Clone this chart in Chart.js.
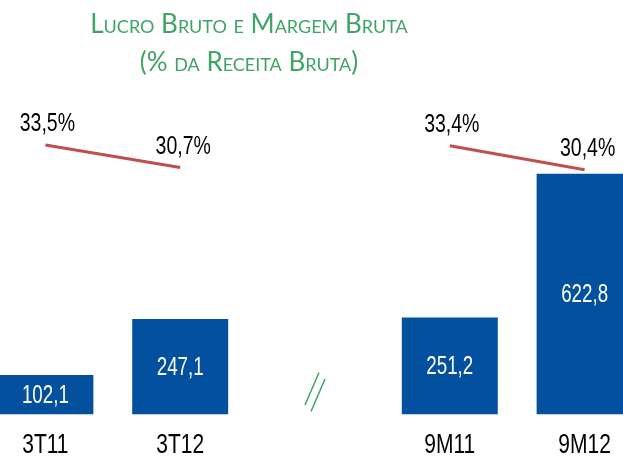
<!DOCTYPE html>
<html>
<head>
<meta charset="utf-8">
<script src="https://cdn.jsdelivr.net/npm/chart.js@4.4.0/dist/chart.umd.min.js"></script>
<style>
    body { margin: 0; background: #fff; }
    #wrap { position: relative; width: 623px; height: 458px; overflow: hidden; }
    #lucroChart { position: absolute; left: -22px; top: 0; }
    .titulo {
        position: absolute; left: 0; width: 498px; text-align: center;
        color: #3fa465; font-family: Lato, "Open Sans", sans-serif;
        font-variant: small-caps; font-size: 26px; line-height: 1;
    }
</style>
</head>
<body>
<div id="wrap">
    <canvas id="lucroChart" width="674" height="458"></canvas>
    <div class="titulo" style="top:10px">Lucro Bruto e Margem Bruta</div>
    <div class="titulo" style="top:48px">(% da Receita Bruta)</div>
</div>
<script>
const periodos = ["3T11", "3T12", "", "9M11", "9M12"];
const lucroBruto = [102.1, 247.1, null, 251.2, 622.8];
const margemBruta = [33.5, 30.7, null, 33.4, 30.4];

const azul = "#03509f";
const vermelho = "#c0504d";
const verde = "#3fa465";
const fonte = '"Liberation Sans", Arial, sans-serif';

function fmt(v) {
    return v.toFixed(1).replace(".", ",");
}

// texto estreito (tipo Arial Narrow)
function textoEstreito(ctx, txt, x, y) {
    ctx.save();
    ctx.translate(x, y);
    ctx.scale(0.75, 1);
    ctx.fillText(txt, 0, 0);
    ctx.restore();
}

// rotulos das barras, da linha, do eixo x e o sinal de quebra "//"
const rotulos = {
    id: "rotulos",
    afterDatasetsDraw(chart) {
        const ctx = chart.ctx;
        const xScale = chart.scales.x;
        ctx.save();
        ctx.textAlign = "center";
        ctx.textBaseline = "middle";

        ctx.font = "25px " + fonte;
        chart.getDatasetMeta(0).data.forEach((bar, i) => {
            if (lucroBruto[i] == null) return;
            ctx.fillStyle = "#fff";
            textoEstreito(ctx, fmt(lucroBruto[i]), bar.x, (bar.y + bar.base) / 2 + 1);
        });

        ctx.font = "26px " + fonte;
        chart.getDatasetMeta(1).data.forEach((pt, i) => {
            if (margemBruta[i] == null) return;
            const inicio = i === 0 || margemBruta[i - 1] == null;
            ctx.fillStyle = "#000";
            textoEstreito(ctx, fmt(margemBruta[i]) + "%", pt.x + (inicio ? 2 : 3), pt.y - 21);
        });

        ctx.font = "28px " + fonte;
        periodos.forEach((p, i) => {
            ctx.fillStyle = "#000";
            textoEstreito(ctx, p, xScale.getPixelForValue(i), chart.chartArea.bottom + 31);
        });

        const x = xScale.getPixelForValue(2);
        const base = chart.chartArea.bottom;
        ctx.strokeStyle = verde;
        ctx.lineWidth = 1.5;
        ctx.beginPath();
        ctx.moveTo(x - 10, base - 9.5);
        ctx.lineTo(x + 4, base - 42);
        ctx.moveTo(x - 4, base - 3);
        ctx.lineTo(x + 10, base - 35.5);
        ctx.stroke();
        ctx.restore();
    }
};

const ctx = document.getElementById("lucroChart").getContext("2d");
new Chart(ctx, {
    type: "bar",
    data: {
        labels: periodos,
        datasets: [{
            label: "Lucro Bruto",
            data: lucroBruto,
            backgroundColor: azul,
            categoryPercentage: 1,
            barPercentage: 0.712,
            yAxisID: "y",
            order: 2
        }, {
            type: "line",
            label: "Margem Bruta",
            data: margemBruta,
            borderColor: vermelho,
            borderWidth: 3,
            pointRadius: 0,
            spanGaps: false,
            yAxisID: "y1",
            order: 1
        }]
    },
    options: {
        responsive: false,
        animation: false,
        layout: {
            padding: { top: 100, left: 0, right: 0, bottom: 43.5 }
        },
        scales: {
            x: { display: false },
            y: { display: false, min: 0, max: 814 },
            y1: { display: false, min: -0.19, max: 39.13 }
        },
        plugins: {
            legend: { display: false },
            tooltip: { enabled: false }
        }
    },
    plugins: [rotulos]
});
</script>
</body>
</html>
